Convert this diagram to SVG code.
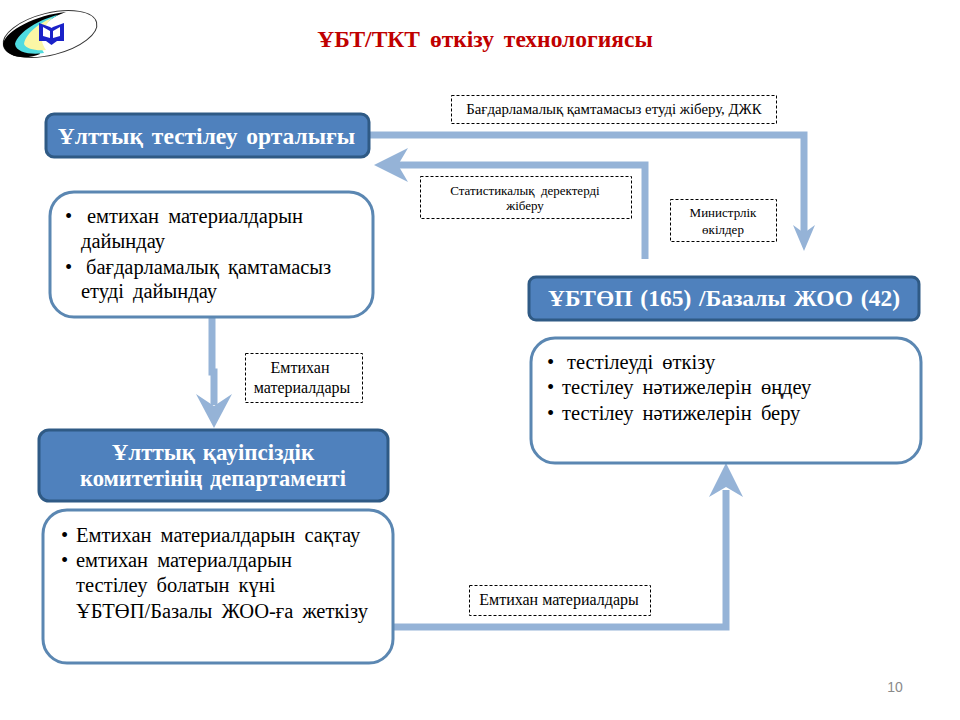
<svg xmlns="http://www.w3.org/2000/svg" width="960" height="720" viewBox="0 0 960 720">
<style>
text{font-family:"Liberation Serif","Times New Roman",serif;fill:#000}
.h{fill:#4f81bd;stroke:#2f5a85;stroke-width:3}
.b{fill:#fff;stroke:#5b87b2;stroke-width:3}
.t{fill:#fff;font-weight:bold;font-size:23.500px;text-anchor:middle;word-spacing:2px}
.l{font-size:20.500px;word-spacing:4px}
.d{fill:#fff;stroke:#000;stroke-width:1;stroke-dasharray:3 2}
.s{font-size:13px;text-anchor:middle}
.m{font-size:16px;text-anchor:middle}
.c{fill:none;stroke:#95b3d7;stroke-width:7}
.a{fill:#95b3d7}
</style>
<rect width="960" height="720" fill="#fff"/>
<g id="logo">
<ellipse cx="50" cy="34" rx="48" ry="21" transform="rotate(-14 50 34)" fill="#fff" stroke="#333" stroke-width="1"/>
<path d="M3 44C6 30 36 15 66 12C45 19 30 34 40 54C30 59 6 60 3 44Z" fill="#000"/>
<path d="M15 44C18 32 40 19 58 15C42 24 34 36 44 53C32 55 16 53 15 44Z" fill="#4fdbe0"/>
<path d="M24 44C26 32 42 22 52 18C42 28 38 38 46 50C36 51 26 49 24 44Z" fill="#fbf6a5"/>
<path d="M39 23L50 27L51.500 28L53 27L64 23V41H57L51.500 45L46 41H39Z" fill="#1a22c8"/>
<path d="M43 27L50 31V38L43 36ZM53 31L60 27V36L53 38Z" fill="#fff"/>
</g>
<text x="485" y="47" text-anchor="middle" font-size="23.500" font-weight="bold" style="fill:#c00000;word-spacing:4px">ҰБТ/ТКТ  өткізу технологиясы</text>
<g id="connectors">
<path class="c" d="M369 135H804V234"/>
<path class="a" d="M793 225L804 233L815 225L804 251Z"/>
<path class="c" d="M645 259V165H398"/>
<path class="a" d="M374 165L408 148L398 165L408 182Z"/>
<path class="c" d="M212 317V372H214V405"/>
<path class="a" d="M196 394L214 406L232 394L214 428Z"/>
<path class="c" d="M392 627H726V490"/>
<path class="a" d="M709 497L726 463L743 497L726 487Z"/>
</g>
<g id="node-center"><rect class="h" x="46" y="114" width="323" height="43" rx="8"/><text class="t" x="206.500" y="144" style="word-spacing:3px">Ұлттық тестілеу орталығы</text></g>
<g id="node-center-tasks"><rect class="b" x="50" y="192" width="323" height="125" rx="24"/>
<text class="l" x="65" y="223">•<tspan x="87">емтихан материалдарын</tspan></text><text class="l" x="81" y="248">дайындау</text><text class="l" x="65" y="274">•<tspan x="86">бағдарламалық қамтамасыз</tspan></text><text class="l" x="81" y="298">етуді дайындау</text></g>
<g id="node-dept"><rect class="h" x="39" y="430" width="349" height="71" rx="10"/><text class="t" x="213" y="460" style="font-size:23px">Ұлттық қауіпсіздік</text><text class="t" x="213" y="486" style="font-size:22.500px">комитетінің департаменті</text></g>
<g id="node-dept-tasks"><rect class="b" x="43" y="510" width="350" height="153" rx="24"/>
<text class="l" x="61" y="542">•<tspan x="76">Емтихан материалдарын сақтау</tspan></text><text class="l" x="61" y="567">•<tspan x="76">емтихан материалдарын</tspan></text><text class="l" x="76" y="592">тестілеу болатын күні</text><text class="l" x="76" y="618">ҰБТӨП/Базалы ЖОО-ға жеткізу</text></g>
<g id="node-test"><rect class="h" x="529" y="277" width="390" height="43" rx="7"/><text class="t" x="724" y="306">ҰБТӨП (165) /Базалы ЖОО (42)</text></g>
<g id="node-test-tasks"><rect class="b" x="531" y="338" width="390" height="125" rx="24"/>
<text class="l" x="547" y="369">•<tspan x="567">тестілеуді өткізу</tspan></text><text class="l" x="547" y="394">•<tspan x="562">тестілеу нәтижелерін өңдеу</tspan></text><text class="l" x="547" y="420">•<tspan x="562">тестілеу нәтижелерін беру</tspan></text></g>
<g id="label-1"><rect class="d" x="451.500" y="95.500" width="325" height="28"/><text class="s" x="614" y="114" style="font-size:14.800px">Бағдарламалық қамтамасыз етуді жіберу, ДЖК</text></g>
<g id="label-2"><rect class="d" x="420.500" y="176.500" width="211" height="42"/><text class="s" x="525" y="195" style="word-spacing:3px">Статистикалық  деректерді</text><text class="s" x="525" y="210">жіберу</text></g>
<g id="label-3"><rect class="d" x="670.500" y="199.500" width="106" height="42"/><text class="s" x="723" y="217">Министрлік</text><text class="s" x="723" y="234">өкілдер</text></g>
<g id="label-4"><rect class="d" x="245.500" y="353.500" width="117" height="49"/><text class="m" x="300" y="373">Емтихан</text><text class="m" x="302" y="393">материалдары</text></g>
<g id="label-5"><rect class="d" x="469.500" y="585.500" width="181" height="30"/><text class="m" x="559" y="605">Емтихан материалдары</text></g>
<text x="895" y="692" text-anchor="middle" style="font-family:'Liberation Sans',Arial,sans-serif;font-size:14px;fill:#8a8a8a">10</text>
</svg>
